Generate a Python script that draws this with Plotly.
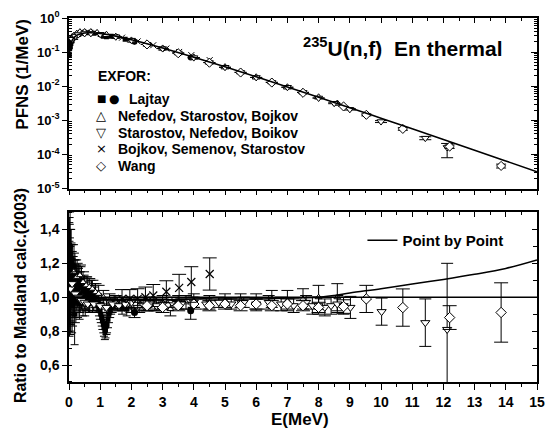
import plotly.graph_objects as go

# ---------------- data ----------------
# Madland calculation (PFNS, 1/MeV)
E_calc = [0.01, 0.02, 0.05, 0.1, 0.2, 0.3, 0.5, 0.7, 1.0, 1.5, 2, 2.5, 3, 4, 5, 6, 7, 8, 9, 10, 11, 12, 13, 14, 15]
pfns_calc = [0.0747, 0.1048, 0.162, 0.2205, 0.2889, 0.3278, 0.3633, 0.369, 0.3508, 0.2933, 0.2313, 0.1765,
             0.1319, 0.07105, 0.03702, 0.0189, 0.00952, 0.004743, 0.002346, 0.0011505, 0.0005626,
             0.000274, 0.0001329, 0.0000643, 0.000031]

# --- top panel: measured spectra ---
laj_sq_E_top = [0.01, 0.02, 0.03, 0.04, 0.06, 0.08, 0.1, 0.12, 0.15, 0.2, 0.25, 0.3, 0.4, 0.5, 0.6, 0.7, 0.8,
                1.0, 1.1, 1.2, 1.35, 1.5, 1.8]
laj_sq_top = [0.085, 0.125, 0.14, 0.145, 0.18, 0.21, 0.215, 0.25, 0.29, 0.30, 0.33, 0.34, 0.36, 0.38, 0.37,
              0.38, 0.36, 0.33, 0.29, 0.28, 0.29, 0.285, 0.24]
laj_ci_E_top = [2.1, 3.9]
laj_ci_top = [0.20, 0.0696]
nef_E_top = [0.15, 0.25, 0.35, 0.5, 0.7, 0.9, 1.2, 1.5, 2, 2.5, 3, 3.5, 4, 4.5, 5, 5.5, 6, 6.5, 7, 7.5, 8, 8.6]
nef_top = [0.299, 0.348, 0.385, 0.388, 0.387, 0.366, 0.323, 0.284, 0.220, 0.169, 0.128, 0.0944, 0.0697,
           0.0499, 0.0363, 0.0260, 0.0183, 0.0133, 0.00933, 0.00666, 0.00474, 0.00311]
sta_E_top = [0.1, 0.2, 0.3, 0.5, 0.7, 1, 1.5, 2, 2.5, 3, 3.5, 4, 4.5, 5, 5.5, 6, 6.5, 7, 7.5, 8, 8.5, 9, 10, 11.42, 12.12]
sta_top = [0.238, 0.295, 0.328, 0.352, 0.354, 0.333, 0.281, 0.224, 0.168, 0.127, 0.0943, 0.0689, 0.0494,
           0.0359, 0.0255, 0.0181, 0.0130, 0.00933, 0.00659, 0.00451, 0.00317, 0.0021, 0.00092, 0.00030, 0.00016]
sta_top_errp = [0, 0, 0, 0, 0, 0, 0, 0, 0, 0, 0, 0, 0, 0, 0, 0, 0, 0, 0, 0, 0.0001, 0.0001, 0.00006, 0.00003, 0.00005]
sta_top_errm = [0, 0, 0, 0, 0, 0, 0, 0, 0, 0, 0, 0, 0, 0, 0, 0, 0, 0, 0, 0, 0.0001, 0.0001, 0.00006, 0.00003, 0.00008]
boj_E_top = [1.7, 2.2, 2.7, 3.12, 3.53, 3.92, 4.51]
boj_top = [0.265, 0.206, 0.159, 0.127, 0.101, 0.0815, 0.0581]
wang_E_top = [2.5, 3.5, 4.5, 5.5, 6.5, 7.5, 8.8, 9.53, 10.7, 12.2, 13.85]
wang_top = [0.168, 0.0925, 0.0489, 0.0252, 0.0128, 0.0064, 0.00255, 0.00145, 0.00056, 0.00017, 0.000046]
wang_top_err = [0, 0, 0, 0, 0, 0, 0, 0.0001, 0.00005, 0.00002, 0.000006]

# --- bottom panel: ratio to Madland ---
laj_sq_E = [0.01, 0.02, 0.03, 0.04, 0.05, 0.06, 0.08, 0.10, 0.12, 0.14, 0.16, 0.18, 0.20, 0.23, 0.26, 0.29,
            0.32, 0.36, 0.40, 0.45, 0.50, 0.55, 0.60, 0.66, 0.72, 0.78, 0.84, 0.90, 0.96, 1.02, 1.07, 1.12,
            1.17, 1.22, 1.28, 1.35, 1.45, 1.55, 1.70, 1.85]
laj_sq_r = [1.14, 1.25, 1.10, 0.98, 1.20, 1.02, 1.15, 0.95, 1.12, 1.05, 1.18, 0.90, 1.10, 1.03, 1.12, 0.98,
            1.08, 1.00, 1.10, 0.97, 1.06, 0.99, 1.05, 0.97, 1.04, 0.98, 1.02, 0.96, 0.94, 0.90, 0.86, 0.82,
            0.81, 0.84, 0.90, 0.94, 0.97, 0.96, 0.94, 0.93]
laj_sq_err = [0.30, 0.22, 0.25, 0.20, 0.20, 0.18, 0.17, 0.16, 0.15, 0.14, 0.13, 0.18, 0.12, 0.11, 0.10, 0.10,
              0.09, 0.09, 0.08, 0.08, 0.07, 0.07, 0.07, 0.06, 0.06, 0.06, 0.06, 0.05, 0.05, 0.05, 0.05, 0.05,
              0.05, 0.05, 0.05, 0.04, 0.04, 0.04, 0.04, 0.04]
laj_sq2_E = [0.015, 0.025, 0.035, 0.045, 0.055, 0.07, 0.09, 0.11, 0.13, 0.15, 0.17, 0.19, 0.22, 0.25, 0.28,
             0.31, 0.34, 0.38, 0.42, 0.47, 0.52, 0.58, 0.63, 0.69, 0.75, 0.81, 0.87, 0.93, 0.99, 1.05, 1.10,
             1.15, 1.20, 1.25, 1.32, 1.40]
laj_sq2_r = [1.05, 1.18, 1.30, 1.08, 1.00, 1.22, 1.06, 1.15, 0.98, 1.10, 1.02, 1.13, 0.97, 1.08, 1.04, 1.10,
             0.96, 1.06, 1.00, 1.04, 0.96, 1.02, 0.98, 1.01, 0.97, 1.00, 0.96, 0.97, 0.92, 0.88, 0.84, 0.80,
             0.83, 0.87, 0.92, 0.95]
laj_sq2_err = [0.28, 0.25, 0.20, 0.22, 0.20, 0.18, 0.17, 0.16, 0.15, 0.14, 0.14, 0.13, 0.12, 0.11, 0.10, 0.10,
               0.09, 0.09, 0.08, 0.08, 0.07, 0.07, 0.07, 0.06, 0.06, 0.06, 0.05, 0.05, 0.05, 0.05, 0.05, 0.05,
               0.05, 0.05, 0.04, 0.04]
laj_ci_E = [2.1, 3.9]
laj_ci_r = [0.91, 0.92]
laj_ci_err = [0.03, 0.05]
nef_E = [0.15, 0.25, 0.35, 0.45, 0.55, 0.65, 0.75, 0.85, 0.95, 1.1, 1.3, 1.5, 1.75, 2.0, 2.25, 2.5, 2.75,
         3.0, 3.25, 3.5, 3.75, 4.0, 4.5, 5.0, 5.5, 6.0, 6.5, 7.0, 7.5, 8.0, 8.6]
nef_r = [1.15, 1.12, 1.13, 1.09, 1.07, 1.06, 1.05, 1.03, 1.02, 1.0, 0.98, 0.97, 0.96, 0.95, 0.95, 0.96, 0.96,
         0.97, 0.93, 0.97, 0.97, 0.98, 0.97, 0.98, 0.98, 0.97, 0.99, 0.98, 0.99, 1.0, 1.0]
nef_err = [0.07, 0.06, 0.06, 0.06, 0.05, 0.05, 0.05, 0.05, 0.05, 0.04, 0.04, 0.04, 0.04, 0.04, 0.04, 0.04, 0.04,
           0.04, 0.04, 0.04, 0.04, 0.04, 0.04, 0.04, 0.04, 0.05, 0.05, 0.06, 0.06, 0.07, 0.08]
sta_E = [0.05, 0.1, 0.2, 0.3, 0.4, 0.5, 0.6, 0.8, 1.0, 1.2, 1.4, 1.6, 1.8, 2.0, 2.2, 2.4, 2.6, 2.8, 3.0, 3.3,
         3.6, 4.0, 4.4, 4.8, 5.2, 5.6, 6.0, 6.4, 6.8, 7.2, 7.6, 7.8, 8.0, 8.2, 8.4, 8.6, 8.8, 9.02, 10.02,
         11.42, 12.12]
sta_r = [1.05, 1.08, 1.02, 1.0, 0.98, 0.97, 0.96, 0.96, 0.95, 0.94, 0.96, 0.95, 0.96, 0.97, 0.94, 0.95, 0.96,
         0.95, 0.96, 0.97, 0.96, 0.97, 0.96, 0.97, 0.96, 0.97, 0.96, 0.97, 0.96, 0.95, 0.97, 0.95, 0.95, 0.94,
         0.95, 0.96, 0.95, 0.94, 0.915, 0.85, 0.81]
sta_err = [0.08, 0.07, 0.06, 0.05, 0.05, 0.04, 0.04, 0.04, 0.04, 0.04, 0.03, 0.03, 0.03, 0.03, 0.03, 0.03, 0.03,
           0.03, 0.03, 0.03, 0.03, 0.03, 0.03, 0.03, 0.03, 0.03, 0.03, 0.04, 0.04, 0.04, 0.04, 0.05, 0.05, 0.05,
           0.05, 0.05, 0.05, 0.065, 0.08, 0.14, 0.39]
boj_E = [1.7, 1.95, 2.2, 2.45, 2.7, 3.12, 3.53, 3.92, 4.51]
boj_r = [0.99, 0.99, 0.99, 1.0, 1.01, 1.032, 1.055, 1.09, 1.137]
boj_err = [0.055, 0.055, 0.06, 0.06, 0.065, 0.065, 0.08, 0.09, 0.095]
wang_E = [2.5, 3.0, 3.5, 4.0, 4.5, 5.0, 5.5, 6.0, 6.5, 7.0, 7.5, 8.0, 8.8, 9.53, 10.7, 12.2, 13.85]
wang_r = [0.95, 0.94, 0.95, 0.96, 0.95, 0.96, 0.95, 0.96, 0.95, 0.96, 0.95, 0.94, 0.945, 0.99, 0.939, 0.88, 0.91]
wang_err = [0.03, 0.03, 0.03, 0.03, 0.03, 0.03, 0.03, 0.03, 0.03, 0.03, 0.03, 0.03, 0.04, 0.08, 0.11, 0.07, 0.175]

pbp_E = [0, 0.5, 1, 2, 3, 4, 5, 6, 7, 8, 8.5, 9, 10, 11, 12, 13, 14, 15]
pbp_r = [1.0, 1.0, 0.99, 0.985, 0.985, 0.99, 0.99, 0.99, 0.995, 1.0, 1.01, 1.025, 1.05, 1.078, 1.105, 1.135, 1.17, 1.22]
madland_E = [0, 15]
madland_r = [1.0, 1.0]

log_tickvals = [1e-5, 1e-4, 1e-3, 1e-2, 1e-1, 1]
log_ticktext = ["10<sup>-5</sup>", "10<sup>-4</sup>", "10<sup>-3</sup>", "10<sup>-2</sup>",
                "10<sup>-1</sup>", "10<sup>0</sup>"]

# ---------------- figure ----------------
FONT = "Liberation Sans"
fig = go.Figure()


def eb(arr, arrm=None, w=4):
    d = dict(type="data", array=arr, color="black", thickness=1, width=w, visible=True)
    if arrm is not None:
        d["symmetric"] = False
        d["arrayminus"] = arrm
    return d


def open_marker(sym, size):
    return dict(symbol=sym, size=size, color="white", line=dict(color="black", width=1))


# top panel
fig.add_trace(go.Scatter(x=laj_sq_E_top, y=laj_sq_top, mode="markers", xaxis="x", yaxis="y",
                         marker=dict(symbol="square", size=5, color="black"), showlegend=False))
fig.add_trace(go.Scatter(x=laj_ci_E_top, y=laj_ci_top, mode="markers", xaxis="x", yaxis="y",
                         marker=dict(symbol="circle", size=6, color="black"), showlegend=False))
fig.add_trace(go.Scatter(x=nef_E_top, y=nef_top, mode="markers", xaxis="x", yaxis="y",
                         marker=open_marker("triangle-up", 7), showlegend=False))
fig.add_trace(go.Scatter(x=sta_E_top, y=sta_top, mode="markers", xaxis="x", yaxis="y",
                         error_y=eb(sta_top_errp, sta_top_errm, 6),
                         marker=open_marker("triangle-down", 7), showlegend=False))
fig.add_trace(go.Scatter(x=boj_E_top, y=boj_top, mode="markers", xaxis="x", yaxis="y",
                         marker=dict(symbol="x-thin-open", size=6, color="black", line=dict(color="black", width=1)),
                         showlegend=False))
fig.add_trace(go.Scatter(x=wang_E_top, y=wang_top, mode="markers", xaxis="x", yaxis="y",
                         error_y=eb(wang_top_err, None, 5),
                         marker=open_marker("diamond", 7), showlegend=False))
# calculation drawn on the overlay (top/right) axes, which share the same ranges
fig.add_trace(go.Scatter(x=E_calc, y=pfns_calc, mode="lines", xaxis="x3", yaxis="y3",
                         line=dict(color="black", width=1.6, shape="spline"), showlegend=False))

# bottom panel
fig.add_trace(go.Scatter(x=laj_sq_E, y=laj_sq_r, mode="markers", xaxis="x2", yaxis="y2",
                         error_y=eb(laj_sq_err, None, 4),
                         marker=dict(symbol="square", size=5, color="black"), showlegend=False))
fig.add_trace(go.Scatter(x=laj_sq2_E, y=laj_sq2_r, mode="markers", xaxis="x2", yaxis="y2",
                         error_y=eb(laj_sq2_err, None, 4),
                         marker=dict(symbol="square", size=5, color="black"), showlegend=False))
fig.add_trace(go.Scatter(x=nef_E, y=nef_r, mode="markers", xaxis="x2", yaxis="y2",
                         error_y=eb(nef_err, None, 6),
                         marker=open_marker("triangle-up", 6), showlegend=False))
fig.add_trace(go.Scatter(x=sta_E, y=sta_r, mode="markers", xaxis="x2", yaxis="y2",
                         error_y=eb(sta_err, None, 6),
                         marker=open_marker("triangle-down", 8), showlegend=False))
fig.add_trace(go.Scatter(x=boj_E, y=boj_r, mode="markers", xaxis="x2", yaxis="y2",
                         error_y=eb(boj_err, None, 7),
                         marker=dict(symbol="x-thin-open", size=8, color="black", line=dict(color="black", width=1.2)),
                         showlegend=False))
fig.add_trace(go.Scatter(x=wang_E, y=wang_r, mode="markers", xaxis="x2", yaxis="y2",
                         error_y=eb(wang_err, None, 7),
                         marker=open_marker("diamond", 8), showlegend=False))
fig.add_trace(go.Scatter(x=laj_ci_E, y=laj_ci_r, mode="markers", xaxis="x2", yaxis="y2",
                         error_y=eb(laj_ci_err, None, 6),
                         marker=dict(symbol="circle", size=7, color="black"), showlegend=False))
fig.add_trace(go.Scatter(x=madland_E, y=madland_r, mode="lines", xaxis="x4", yaxis="y4",
                         line=dict(color="black", width=1.3), showlegend=False))
fig.add_trace(go.Scatter(x=pbp_E, y=pbp_r, mode="lines", xaxis="x2", yaxis="y2", name="Point by Point",
                         line=dict(color="black", width=1.5, shape="spline"), showlegend=True))

TOP_DOM = [0.5315, 1.0]
BOT_DOM = [0.0, 0.4658]
tickfont = dict(family=FONT, size=14, color="black", weight="bold")
axline = dict(showline=True, linecolor="black", linewidth=1.5, showgrid=False, zeroline=False)
log_minor = [m * 10.0 ** k for k in range(-5, 0) for m in range(2, 10)]

fig.update_layout(
    width=554, height=437,
    margin=dict(l=69, r=9, t=17, b=55),
    paper_bgcolor="white", plot_bgcolor="white",
    separators=",.",
    font=dict(family=FONT, color="black"),
    xaxis=dict(domain=[0, 1], anchor="y", range=[0, 15], ticks="outside", ticklen=5, tickwidth=1.3,
               tickcolor="black", tickmode="linear", tick0=0, dtick=1, showticklabels=False,
               minor=dict(ticks="outside", ticklen=3, dtick=0.5, tickcolor="black", tickwidth=1.2), **axline),
    xaxis3=dict(overlaying="x", side="top", anchor="y", range=[0, 15], ticks="inside", ticklen=5, tickwidth=1.3,
                tickcolor="black", tickmode="linear", tick0=0, dtick=1, showticklabels=False,
                minor=dict(ticks="inside", ticklen=3, dtick=0.5, tickcolor="black", tickwidth=1.2), **axline),
    yaxis=dict(domain=TOP_DOM, anchor="x", type="log", range=[-5, 0], tickmode="array",
               tickvals=log_tickvals, ticktext=log_ticktext, ticks="outside", ticklen=5, tickwidth=1.3,
               tickcolor="black", tickfont=dict(family=FONT, size=13, color="black", weight="bold"),
               minor=dict(ticks="inside", ticklen=3, tickcolor="black", tickwidth=1,
                          tickmode="array", tickvals=log_minor),
               **axline),
    yaxis3=dict(overlaying="y", side="right", anchor="x", type="log", range=[-5, 0], tickmode="array",
                tickvals=log_tickvals, ticks="inside", ticklen=6, tickwidth=1.3, tickcolor="black",
                showticklabels=False,
                minor=dict(ticks="inside", ticklen=3, tickcolor="black", tickwidth=1,
                           tickmode="array", tickvals=log_minor),
                **axline),
    xaxis2=dict(domain=[0, 1], anchor="y2", range=[0, 15], ticks="outside", ticklen=6, tickwidth=1.3,
                tickcolor="black", tickmode="linear", tick0=0, dtick=1, tickfont=tickfont,
                minor=dict(ticks="outside", ticklen=3, dtick=0.5, tickcolor="black", tickwidth=1.2), **axline),
    xaxis4=dict(overlaying="x2", side="top", anchor="y2", range=[0, 15], ticks="inside", ticklen=5, tickwidth=1.3,
                tickcolor="black", tickmode="linear", tick0=0, dtick=1, showticklabels=False,
                minor=dict(ticks="inside", ticklen=3, dtick=0.5, tickcolor="black", tickwidth=1.2), **axline),
    yaxis2=dict(domain=BOT_DOM, anchor="x2", range=[0.5, 1.5], tickmode="linear", tick0=0.6, dtick=0.2,
                tickformat=".1f", ticks="outside", ticklen=5, tickwidth=1.3, tickcolor="black", tickfont=tickfont,
                minor=dict(ticks="inside", ticklen=3, dtick=0.1, tickcolor="black", tickwidth=1), **axline),
    yaxis4=dict(overlaying="y2", side="right", anchor="x2", range=[0.5, 1.5], tickmode="linear", tick0=0.6,
                dtick=0.2, ticks="inside", ticklen=5, tickwidth=1.3, tickcolor="black", showticklabels=False,
                minor=dict(ticks="inside", ticklen=4, dtick=0.1, tickcolor="black", tickwidth=1.2), **axline),
    legend=dict(x=0.627, y=0.389, xanchor="left", yanchor="middle", bgcolor="rgba(0,0,0,0)",
                font=dict(family=FONT, size=15, color="black", weight="bold")),
)


def px_x(px):
    return (px - 69) / 476.0


def px_y(py):
    return 1 - (py - 17) / 365.0


ann = []
ann.append(dict(text="<sup>235</sup>U(n,f)\u00a0\u00a0En thermal", x=px_x(409), y=px_y(46), xref="paper", yref="paper",
                showarrow=False, xanchor="center", yanchor="middle",
                font=dict(family=FONT, size=21, color="black", weight="bold")))
ann.append(dict(text="PFNS (1/MeV)", x=px_x(22), y=px_y(73), xref="paper", yref="paper", textangle=-90,
                showarrow=False, xanchor="center", yanchor="middle",
                font=dict(family=FONT, size=17, color="black", weight="bold")))
ann.append(dict(text="Ratio to Madland calc.(2003)", x=px_x(19), y=px_y(295), xref="paper", yref="paper",
                textangle=-90, showarrow=False, xanchor="center", yanchor="middle",
                font=dict(family=FONT, size=16, color="black", weight="bold")))
ann.append(dict(text="E(MeV)", x=px_x(304), y=px_y(420), xref="paper", yref="paper",
                showarrow=False, xanchor="center", yanchor="middle",
                font=dict(family=FONT, size=17, color="black", weight="bold")))

lfont = dict(family=FONT, size=14, color="black", weight="bold")
gfont = dict(family="DejaVu Sans", size=13, color="black")
ann.append(dict(text="EXFOR:", x=px_x(96), y=px_y(75), xref="paper", yref="paper", showarrow=False,
                xanchor="left", yanchor="middle", font=lfont))
rows = [("Lajtay", 98), ("Nefedov, Starostov, Bojkov", 115), ("Starostov, Nefedov, Boikov", 132),
        ("Bojkov, Semenov, Starostov", 148), ("Wang", 165)]
glyphs = ["\u25A0", "\u25B3", "\u25BD", "\u00D7", "\u25C7"]
for (name, py), g in zip(rows, glyphs):
    gf = dict(gfont)
    if g == "\u25A0":
        gf["size"] = 10
    ann.append(dict(text=g, x=px_x(102), y=px_y(py), xref="paper", yref="paper", showarrow=False,
                    xanchor="center", yanchor="middle", font=gf))
    tx = 128 if name == "Lajtay" else 117
    ann.append(dict(text=name, x=px_x(tx), y=px_y(py), xref="paper", yref="paper", showarrow=False,
                    xanchor="left", yanchor="middle", font=lfont))
ann.append(dict(text="\u25CF", x=px_x(115), y=px_y(98), xref="paper", yref="paper", showarrow=False,
                xanchor="center", yanchor="middle", font=dict(family="DejaVu Sans", size=12, color="black")))
fig.update_layout(annotations=ann)

fig.write_html("out.html", config={"displayModeBar": False},
               post_script="document.body.style.margin='0px';")
